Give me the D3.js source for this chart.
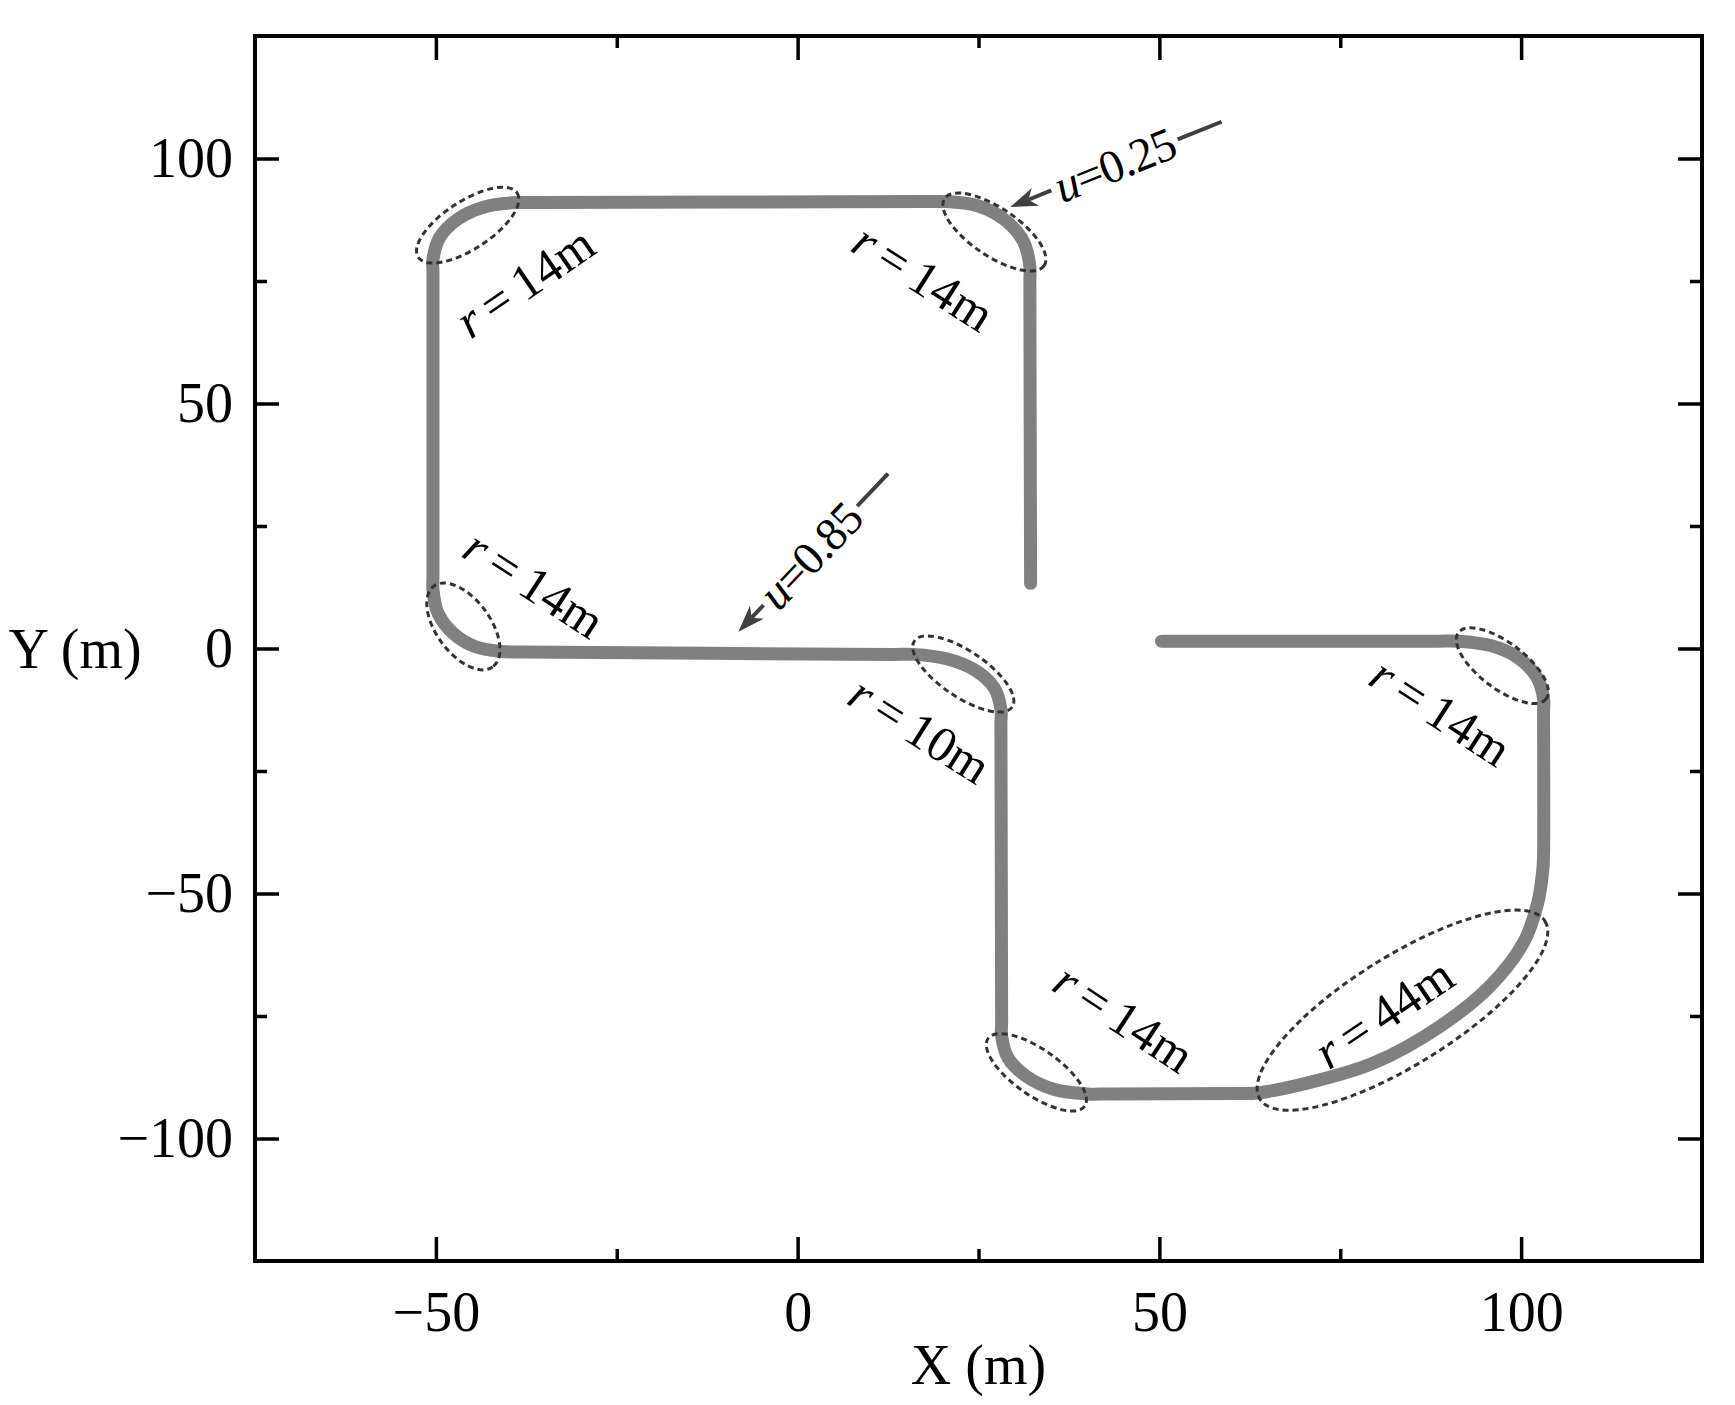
<!DOCTYPE html>
<html>
<head>
<meta charset="utf-8">
<script src="https://cdn.jsdelivr.net/npm/d3@7"></script>
<style>
  html, body { margin: 0; padding: 0; background: #ffffff; }
  svg { display: block; }
</style>
</head>
<body>
<script>
// ---------------- data ----------------
// Axis ticks
const xTickValues = [-50, 0, 50, 100];
const xMinorValues = [-25, 25, 75];
const yTickValues = [-100, -50, 0, 50, 100];
const yMinorValues = [-75, -25, 25, 75];

// Track (trajectory) points, in metres
const trackX = [32.2, 32.1, 32.1, 31.2, 28.7, 25.0, 20.6,
  17.6, -35.9, -38.9, -43.3, -47.0, -49.5, -50.4,
  -50.4, -50.4, -50.4, -49.7, -47.6, -44.6, -41.0,
  -38.0, 13.0, 16.0, 20.6, 24.6, 27.2, 28.1,
  28.1, 28.2, 28.2, 29.1, 31.7, 35.5, 40.0,
  43.0, 60.6, 63.6, 70.4, 79.6, 88.8, 95.7, 100.3, 102.3, 103.0,
  103.1, 103.1, 103.1, 102.1, 99.6, 95.8, 91.3,
  88.3, 50.3];
const trackY = [13.3, 75.0, 78.0, 83.1, 87.4, 90.3, 91.2,
  91.2, 91.0, 91.0, 90.1, 87.6, 83.8, 79.4,
  76.4, 15.0, 12.0, 7.2, 3.1, 0.4, -0.6,
  -0.7, -1.2, -1.2, -2.1, -4.5, -8.1, -12.4,
  -15.4, -76.1, -79.1, -83.6, -87.4, -90.0, -90.9,
  -90.9, -90.8, -90.7, -88.7, -84.6, -77.1, -68.9, -60.1, -51.9, -45.1,
  -42.1, -13.1, -10.1, -5.7, -1.9, 0.6, 1.5,
  1.5, 1.5];

// Turning-radius labels (centre in metres, rotation in degrees)
const radiusLabels = ["14m", "14m", "14m", "10m", "14m", "14m", "44m"];
const radiusLabelX = [-37.7, 17.4, -36.4, 16.9, 88.9, 45.1, 81.0];
const radiusLabelY = [74.8, 75.7, 13.2, -16.6, -12.9, -75.4, -74.4];
const radiusLabelAngle = [-34.5, 32.5, 33, 32.3, 33, 33.4, -34];

// Dashed ellipses marking the bends (centre in metres)
const bendX = [-45.6, 27.2, -46.2, 22.9, 97.4, 33.0, 83.6];
const bendY = [86.4, 85.0, 4.5, -5.2, -3.5, -86.5, -73.8];

// u annotations (arrow start and tip in metres)
const uLabels = ["0.25", "0.85"];
const uStartX = [58.6, 12.5];
const uStartY = [107.5, 35.7];
const uTipX = [29.4, -8.2];
const uTipY = [90.1, 3.4];

// ---------------- styles / layout ----------------
const W = 1735, H = 1405;
const FONT = "'Times New Roman', 'Liberation Serif', serif";
const plot = { left: 255, right: 1702, top: 36, bottom: 1261 };
const ellipseGeom = [ // pixel radii and rotation for the bend markers
  { rx: 59, ry: 24, rot: -33 },
  { rx: 60, ry: 24, rot: 34 },
  { rx: 50, ry: 27, rot: 54 },
  { rx: 59, ry: 23, rot: 34 },
  { rx: 55, ry: 23, rot: 37 },
  { rx: 59, ry: 23, rot: 35 },
  { rx: 168, ry: 54, rot: -32 }
];
const uLabelFrac = [0.507, 0.519];

const svg = d3.select("body").append("svg")
  .attr("width", W).attr("height", H)
  .attr("viewBox", `0 0 ${W} ${H}`);
svg.append("rect").attr("width", W).attr("height", H).attr("fill", "#fff");

const x = d3.scaleLinear().domain([-75, 125]).range([plot.left, plot.right]);
const y = d3.scaleLinear().domain([-125, 125]).range([plot.bottom, plot.top]);

function styleAxis(g, showText) {
  g.select(".domain").remove();
  g.selectAll(".tick line").attr("stroke", "#000").attr("stroke-width", 3.5);
  if (!showText) g.selectAll(".tick text").remove();
  else g.selectAll(".tick text")
      .attr("font-family", FONT).attr("font-size", 56).attr("fill", "#000");
}
const fmt = d3.format("d");

// bottom
svg.append("g").attr("transform", `translate(0,${plot.bottom})`)
  .call(d3.axisBottom(x).tickValues(xTickValues).tickSizeInner(-24).tickSizeOuter(0).tickPadding(30).tickFormat(fmt))
  .call(g => styleAxis(g, true));
svg.append("g").attr("transform", `translate(0,${plot.bottom})`)
  .call(d3.axisBottom(x).tickValues(xMinorValues).tickSizeInner(-12).tickSizeOuter(0))
  .call(g => styleAxis(g, false));
// top
svg.append("g").attr("transform", `translate(0,${plot.top})`)
  .call(d3.axisTop(x).tickValues(xTickValues).tickSizeInner(-24).tickSizeOuter(0))
  .call(g => styleAxis(g, false));
svg.append("g").attr("transform", `translate(0,${plot.top})`)
  .call(d3.axisTop(x).tickValues(xMinorValues).tickSizeInner(-12).tickSizeOuter(0))
  .call(g => styleAxis(g, false));
// left
svg.append("g").attr("transform", `translate(${plot.left},0)`)
  .call(d3.axisLeft(y).tickValues(yTickValues).tickSizeInner(-24).tickSizeOuter(0).tickPadding(22).tickFormat(fmt))
  .call(g => styleAxis(g, true));
svg.append("g").attr("transform", `translate(${plot.left},0)`)
  .call(d3.axisLeft(y).tickValues(yMinorValues).tickSizeInner(-12).tickSizeOuter(0))
  .call(g => styleAxis(g, false));
// right
svg.append("g").attr("transform", `translate(${plot.right},0)`)
  .call(d3.axisRight(y).tickValues(yTickValues).tickSizeInner(-24).tickSizeOuter(0))
  .call(g => styleAxis(g, false));
svg.append("g").attr("transform", `translate(${plot.right},0)`)
  .call(d3.axisRight(y).tickValues(yMinorValues).tickSizeInner(-12).tickSizeOuter(0))
  .call(g => styleAxis(g, false));

// frame
svg.append("rect")
  .attr("x", plot.left).attr("y", plot.top)
  .attr("width", plot.right - plot.left).attr("height", plot.bottom - plot.top)
  .attr("fill", "none").attr("stroke", "#000").attr("stroke-width", 4);

// axis titles
svg.append("text").attr("x", (plot.left + plot.right) / 2).attr("y", 1384)
  .attr("text-anchor", "middle").attr("font-family", FONT).attr("font-size", 56)
  .text("X (m)");
svg.append("text").attr("x", 75).attr("y", 668)
  .attr("text-anchor", "middle").attr("font-family", FONT).attr("font-size", 56)
  .text("Y (m)");

// track
const track = trackX.map((d, i) => [d, trackY[i]]);
svg.append("path")
  .datum(track)
  .attr("d", d3.line().x(d => x(d[0])).y(d => y(d[1])).curve(d3.curveCatmullRom.alpha(0.5)))
  .attr("fill", "none").attr("stroke", "#808080").attr("stroke-width", 13)
  .attr("stroke-linecap", "round").attr("stroke-linejoin", "round");

// dashed ellipses
svg.append("g").selectAll("ellipse")
  .data(bendX.map((d, i) => ({ cx: d, cy: bendY[i], g: ellipseGeom[i] })))
  .join("ellipse")
  .attr("transform", d => `translate(${x(d.cx)},${y(d.cy)}) rotate(${d.g.rot})`)
  .attr("rx", d => d.g.rx).attr("ry", d => d.g.ry)
  .attr("fill", "none").attr("stroke", "#333").attr("stroke-width", 3)
  .attr("stroke-dasharray", "6,4");

// radius labels
const rl = svg.append("g").selectAll("text")
  .data(radiusLabels.map((d, i) => ({ t: d, x: radiusLabelX[i], y: radiusLabelY[i], a: radiusLabelAngle[i] })))
  .join("text")
  .attr("transform", d => `translate(${x(d.x)},${y(d.y)}) rotate(${d.a})`)
  .attr("text-anchor", "middle").attr("dominant-baseline", "central")
  .attr("font-family", FONT).attr("font-size", 50).attr("fill", "#000")
  .attr("word-spacing", -3);
rl.append("tspan").attr("font-style", "italic").text("r");
rl.append("tspan").text(d => " = " + d.t);

// u arrows
const ARROW = "#404040";
uLabels.forEach((lab, i) => {
  const sx = x(uStartX[i]), sy = y(uStartY[i]);
  const tx = x(uTipX[i]), ty = y(uTipY[i]);
  const len = Math.hypot(tx - sx, ty - sy);
  const dx = (tx - sx) / len, dy = (ty - sy) / len;
  const nx = -dy, ny = dx;
  const f = uLabelFrac[i];
  const cx = sx + dx * len * f, cy = sy + dy * len * f;
  const ang = Math.atan2(sy - ty, sx - tx) * 180 / Math.PI;
  const t = svg.append("text")
    .attr("transform", `translate(${cx},${cy}) rotate(${ang})`)
    .attr("text-anchor", "middle").attr("dominant-baseline", "central")
    .attr("font-family", FONT).attr("font-size", 47).attr("fill", "#000")
    .attr("letter-spacing", -1);
  t.append("tspan").attr("font-style", "italic").text("u");
  t.append("tspan").text("=" + lab);
  const tl = t.node().getComputedTextLength();
  const half = tl / 2 + 5;
  const L = 27, Wd = 19;
  const g0 = len * f - half, g1 = len * f + half;
  const notch = len - 0.72 * L;
  svg.append("line")
    .attr("x1", sx).attr("y1", sy).attr("x2", sx + dx * g0).attr("y2", sy + dy * g0)
    .attr("stroke", ARROW).attr("stroke-width", 4);
  svg.append("line")
    .attr("x1", sx + dx * g1).attr("y1", sy + dy * g1).attr("x2", sx + dx * notch).attr("y2", sy + dy * notch)
    .attr("stroke", ARROW).attr("stroke-width", 4);
  const bx = tx - dx * L, by = ty - dy * L;
  const pts = [
    [tx, ty],
    [bx + nx * Wd / 2, by + ny * Wd / 2],
    [tx - dx * 0.72 * L, ty - dy * 0.72 * L],
    [bx - nx * Wd / 2, by - ny * Wd / 2]
  ];
  svg.append("path").attr("d", "M" + pts.map(p => p.join(",")).join("L") + "Z")
    .attr("fill", ARROW);
});
</script>
</body>
</html>
